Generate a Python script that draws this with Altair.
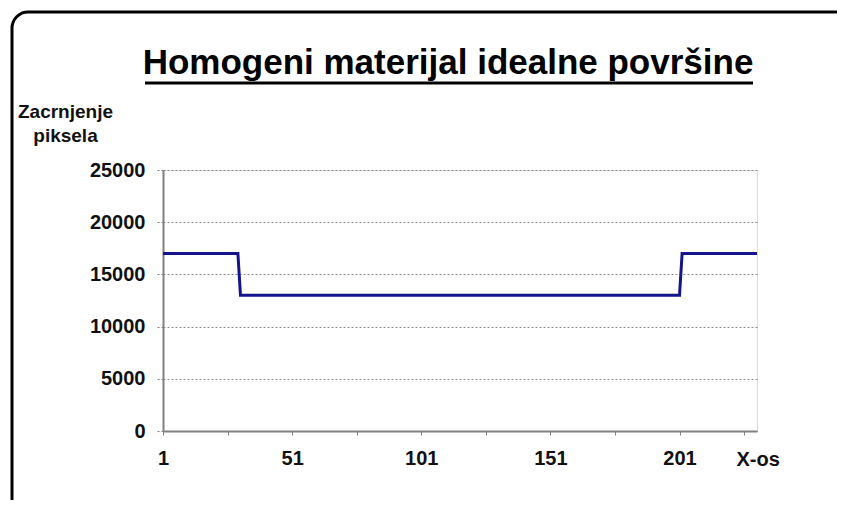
import altair as alt
import pandas as pd

# ---- data ----
x_pos = [1, 30, 31, 201, 202, 231]
zacrnjenje = [17000, 17000, 13000, 13000, 17000, 17000]
x_tick_values = [1, 26, 51, 76, 101, 126, 151, 176, 201, 226]
y_tick_values = [0, 5000, 10000, 15000, 20000, 25000]
title_text = "Homogeni materijal idealne površine"
y_title = ["Zacrnjenje", "piksela"]
x_title = "X-os"

df = pd.DataFrame({"x": x_pos, "y": zacrnjenje})

FONT = "Liberation Sans"
W, H = 594, 261

base = alt.Chart(df)

line = base.mark_line(color="#14148c", strokeWidth=3, clip=False).encode(
    x=alt.X(
        "x:Q",
        scale=alt.Scale(domain=[1, 231], nice=False, zero=False),
        axis=alt.Axis(
            values=x_tick_values,
            labelExpr="(datum.value - 1) % 50 == 0 ? datum.label : ''",
            grid=False,
            domainColor="#808080",
            domainWidth=2,
            tickColor="#808080",
            tickSize=4,
            tickWidth=1,
            labelFont=FONT,
            labelFontSize=20,
            labelFontWeight="bold",
            labelColor="#111111",
            labelPadding=13,
            labelFlush=False,
            labelOverlap=False,
            title=x_title,
            titleFont=FONT,
            titleFontSize=20,
            titleFontWeight="bold",
            titleColor="#111111",
            titleAngle=0,
            titleAlign="left",
            titleBaseline="alphabetic",
            titleX=573,
            titleY=34,
        ),
    ),
    y=alt.Y(
        "y:Q",
        scale=alt.Scale(domain=[0, 25000], nice=False),
        axis=alt.Axis(
            values=y_tick_values,
            format="d",
            grid=True,
            gridColor="#8c8c8c",
            gridDash=[2, 2],
            gridWidth=1,
            domainColor="#808080",
            domainWidth=2,
            tickColor="#808080",
            tickSize=8,
            tickDash=[2, 2],
            labelFont=FONT,
            labelFontSize=20,
            labelFontWeight="bold",
            labelColor="#111111",
            labelPadding=10,
            labelFlush=False,
            title=y_title,
            titleFont=FONT,
            titleFontSize=19,
            titleFontWeight="bold",
            titleColor="#111111",
            titleAngle=0,
            titleAlign="center",
            titleBaseline="alphabetic",
            titleLineHeight=24,
            titleX=-98,
            titleY=-53,
        ),
    ),
)

# decorative outer frame (rounded border) and title underline
frame = alt.Chart(pd.DataFrame({"a": [0]})).mark_rect(
    fill=None, stroke="#000000", strokeWidth=3, cornerRadius=16, clip=False
).encode(
    x=alt.value(-151), x2=alt.value(740), y=alt.value(-158), y2=alt.value(345)
)

underline = alt.Chart(pd.DataFrame({"a": [0]})).mark_rule(
    color="#000000", strokeWidth=3, clip=False
).encode(
    x=alt.value(-18), x2=alt.value(590), y=alt.value(-87)
)

chart = (
    alt.layer(frame, line, underline)
    .properties(
        width=W,
        height=H,
        padding={"left": 155, "top": 162, "right": 80, "bottom": 69},
        autosize=alt.AutoSizeParams(type="none"),
        title=alt.TitleParams(
            text=title_text,
            font=FONT,
            fontSize=35,
            fontWeight="bold",
            color="#000000",
            anchor="middle",
            frame="group",
            baseline="alphabetic",
            dx=-12,
            offset=-98,
        ),
    )
    .configure_view(stroke=None)
    .configure(background="#ffffff")
)

chart.save("out.html", embed_options={"renderer": "svg", "actions": False})
